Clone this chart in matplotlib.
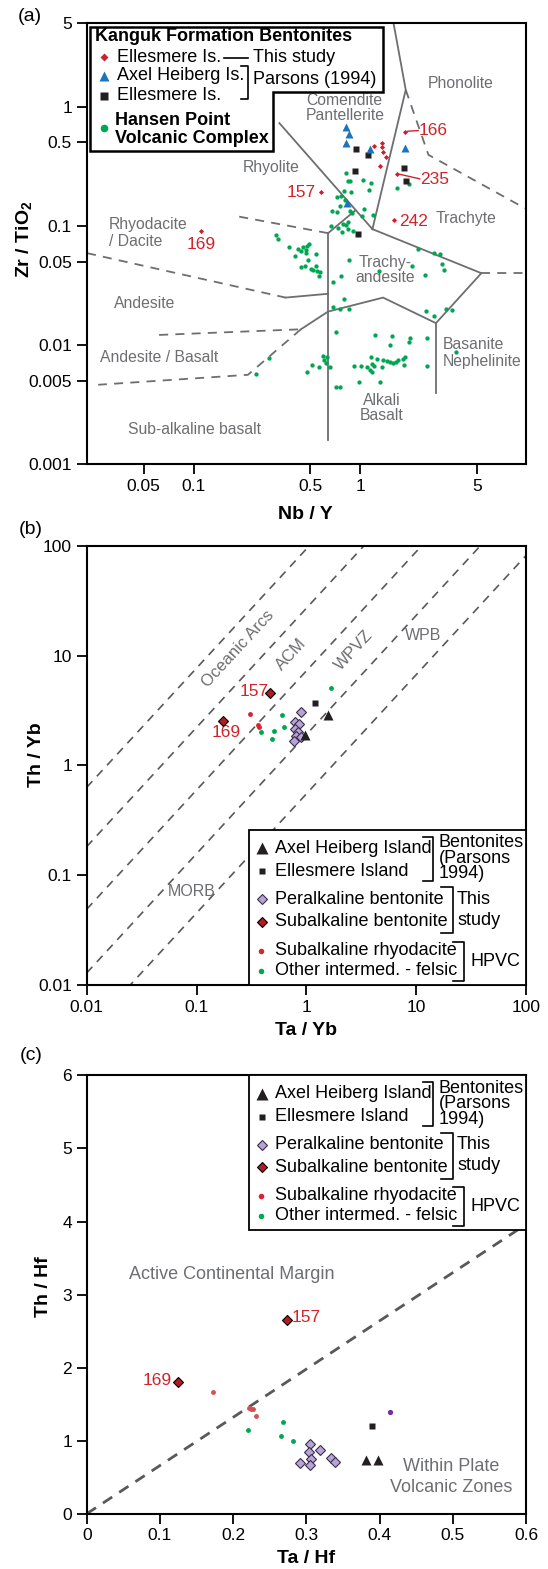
import matplotlib
matplotlib.use('Agg')
import matplotlib.pyplot as plt
from matplotlib.patches import Polygon, Rectangle
import numpy as np

plt.rcParams['font.family'] = ['Liberation Sans', 'DejaVu Sans']
plt.rcParams['mathtext.fontset'] = 'custom'
plt.rcParams['mathtext.rm'] = 'Liberation Sans'
plt.rcParams['mathtext.bf'] = 'Liberation Sans:bold'

GREEN = '#00a651'
RED_A = '#cc1f2f'
BLUE = '#1b75bb'
BLACK = '#231f20'
GRAY = '#6d6e71'
LAV = '#b7a3d4'
DKRED = '#b01c22'
RED_DOT = '#d7242f'
RED_DOT_C = '#d45050'
PURPLE = '#7030a0'
TXT_RED = '#d2232a'

# ---------------- (a) Nb/Y vs Zr/TiO2 ----------------
a_ell_x = [1.207, 1.341, 1.355, 1.374, 1.415, 1.303, 1.667, 1.845, 0.580, 1.588, 0.110]
a_ell_y = [0.465, 0.492, 0.453, 0.417, 0.378, 0.314, 0.272, 0.609, 0.192, 0.111, 0.0905]
a_axel_x = [0.821, 0.849, 0.817, 1.139, 1.845, 0.833]
a_axel_y = [0.679, 0.590, 0.496, 0.436, 0.450, 0.155]
a_ellp_x = [0.939, 1.117, 0.921, 1.826, 1.879, 0.971]
a_ellp_y = [0.444, 0.391, 0.289, 0.304, 0.239, 0.0859]
a_hpvc_x = [0.815, 0.841, 0.870, 1.035, 1.16, 0.793, 0.873, 1.125, 0.723, 0.768,
            0.675, 0.727, 0.757, 0.861, 0.894, 1.05, 1.19, 1.027, 0.841, 0.823,
            0.669, 0.733, 0.785, 0.771, 0.841, 0.902, 0.853, 1.656, 0.804, 1.955,
            0.310, 0.318, 0.372, 0.422, 0.442, 0.452, 0.469, 0.478, 0.491, 0.469,
            0.403, 0.538, 0.484, 0.442, 0.462, 0.502, 0.519, 0.543, 0.551, 0.574,
            0.564, 0.684, 0.768, 0.796,
            0.710, 1.217, 1.553, 1.497, 1.997, 1.955, 2.51, 0.596, 0.633, 0.604,
            0.624, 0.659, 0.514, 0.561, 0.478, 0.910, 1.012, 1.094, 1.136, 1.162,
            1.178, 1.20, 1.256, 1.34, 1.178, 1.365, 1.442, 1.51, 1.567, 1.626,
            1.679, 1.80, 1.85, 1.824, 2.51, 0.979, 1.304, 0.717, 0.750,
            1.286, 2.225, 2.76, 3.02, 2.04, 3.07, 3.16, 2.45, 0.687, 0.757,
            0.853, 2.47, 2.78, 3.28, 3.53, 3.76, 0.282, 0.235]
a_hpvc_y = [0.279, 0.235, 0.239, 0.243, 0.228, 0.197, 0.191, 0.200, 0.174, 0.178,
            0.134, 0.131, 0.145, 0.132, 0.128, 0.138, 0.123, 0.121, 0.108, 0.102,
            0.0985, 0.0955, 0.103, 0.0877, 0.0936, 0.0906, 0.0518, 0.208, 0.163, 0.225,
            0.0839, 0.0777, 0.0661, 0.0636, 0.0608, 0.0661, 0.0619, 0.0669, 0.0705, 0.0589,
            0.0559, 0.0578, 0.0518, 0.0449, 0.0455, 0.0432, 0.0427, 0.0455, 0.0413, 0.0408,
            0.0375, 0.0336, 0.0375, 0.0242,
            0.0127, 0.0122, 0.0118, 0.0100, 0.0115, 0.0106, 0.0113, 0.00811, 0.00784, 0.00740,
            0.00703, 0.00651, 0.00672, 0.00646, 0.00591, 0.00668, 0.00659, 0.00646, 0.00618, 0.00790,
            0.00690, 0.00659, 0.00760, 0.00651, 0.00586, 0.00740, 0.00731, 0.00718, 0.00698, 0.00712,
            0.00740, 0.00760, 0.00784, 0.00681, 0.00659, 0.00490, 0.00488, 0.00439, 0.00439,
            0.0418, 0.0636, 0.0589, 0.0578, 0.0461, 0.0476, 0.0427, 0.0382, 0.0208, 0.0200,
            0.0200, 0.0194, 0.0173, 0.0200, 0.0197, 0.00870, 0.00775, 0.00572]

# field boundaries (Nb/Y, Zr/TiO2)
field_solid = [
    [(1.58, 5.0), (1.87, 1.38), (1.18, 0.0935)],
    [(0.326, 0.725), (1.18, 0.0935)],
    [(1.18, 0.0935), (5.32, 0.0399), (2.84, 0.0152), (1.367, 0.0249),
     (0.639, 0.0190), (0.439, 0.0135)],
    [(0.639, 0.0865), (0.639, 0.0016)],
    [(0.639, 0.0865), (0.930, 0.134)],
    [(0.355, 0.0249), (0.639, 0.0268)],
    [(2.84, 0.0152), (2.84, 0.00393)],
]
field_dashed = [
    [(0.439, 0.0135), (0.211, 0.0056), (0.0266, 0.00462)],
    [(0.187, 0.119), (0.639, 0.0865)],
    [(0.0228, 0.0588), (0.355, 0.0249)],
    [(0.0618, 0.0121), (0.439, 0.0135)],
    [(5.32, 0.0399), (9.86, 0.0399)],
    [(1.87, 1.38), (2.56, 0.393), (9.71, 0.140)],
]
field_names = ['Phonolite', 'Comendite\nPantellerite', 'Rhyolite', 'Trachyte',
               'Trachy-\nandesite', 'Andesite', 'Andesite / Basalt',
               'Alkali\nBasalt', 'Sub-alkaline basalt']
field_x = [3.98, 0.805, 0.293, 4.28, 1.415, 0.0509, 0.0618, 1.335, 0.101]
field_y = [1.57, 0.968, 0.31, 0.115, 0.0426, 0.0224, 0.00783, 0.00294, 0.00196]

# ---------------- (b) Ta/Yb vs Th/Yb ----------------
b_axel_x = [0.975, 1.56]
b_axel_y = [1.88, 2.87]
b_ellp_x = [1.21]
b_ellp_y = [3.73]
b_peral_x = [0.886, 0.782, 0.854, 0.782, 0.842, 0.811, 0.886, 0.776]
b_peral_y = [3.04, 2.50, 2.38, 2.13, 2.03, 1.85, 1.80, 1.68]
b_subalk_x = [0.469, 0.174]
b_subalk_y = [4.59, 2.54]
b_rhyo_x = [0.308, 0.362, 0.368]
b_rhyo_y = [2.95, 2.34, 2.22]
b_other_x = [0.385, 0.508, 0.490, 0.605, 0.624, 1.66]
b_other_y = [2.01, 2.04, 1.73, 2.85, 2.25, 5.03]
b_line_icept = [-0.2, -0.74, -1.31, -1.89, -2.43]   # log10(Th/Yb) at Ta/Yb = 0.01
b_line_slope = 1.085

# ---------------- (c) Ta/Hf vs Th/Hf ----------------
c_axel_x = [0.3815, 0.3973]
c_axel_y = [0.738, 0.738]
c_ellp_x = [0.3892]
c_ellp_y = [1.207]
c_peral_x = [0.305, 0.3193, 0.304, 0.3064, 0.3337, 0.3394, 0.2916, 0.305]
c_peral_y = [0.949, 0.867, 0.843, 0.743, 0.762, 0.714, 0.690, 0.661]
c_subalk_x = [0.1243, 0.2735]
c_subalk_y = [1.81, 2.655]
c_rhyo_x = [0.1726, 0.2213, 0.2247, 0.2266, 0.2314]
c_rhyo_y = [1.672, 1.452, 1.433, 1.428, 1.337]
c_other_x = [0.2199, 0.2677, 0.2653, 0.2820]
c_other_y = [1.140, 1.260, 1.059, 1.001]
c_purple_x = [0.4136]
c_purple_y = [1.399]
c_line_slope = 6.6


def style_axes(ax):
    for s in ax.spines.values():
        s.set_linewidth(1.5)
        s.set_color('black')
    ax.tick_params(direction='out', length=7, width=1.3, labelsize=12.5, pad=3.5,
                   top=False, right=False)


fig = plt.figure(figsize=(5.48, 15.69), dpi=100)
axa = fig.add_axes([0.1582, 0.7043, 0.8016, 0.2809])
axb = fig.add_axes([0.1582, 0.3722, 0.8016, 0.2800])
axc = fig.add_axes([0.1582, 0.0352, 0.8016, 0.2794])

# ======== panel a ========
ax = axa
ax.set_xscale('log')
ax.set_yscale('log')
ax.set_xlim(0.0227, 9.86)
ax.set_ylim(0.001, 5)
ax.minorticks_off()
ax.set_xticks([0.05, 0.1, 0.5, 1, 5])
ax.set_xticklabels(['0.05', '0.1', '0.5', '1', '5'])
ax.set_yticks([0.001, 0.005, 0.01, 0.05, 0.1, 0.5, 1, 5])
ax.set_yticklabels(['0.001', '0.005', '0.01', '0.05', '0.1', '0.5', '1', '5'])
style_axes(ax)
for seg in field_solid:
    xs, ys = zip(*seg)
    ax.plot(xs, ys, color=GRAY, lw=1.3, zorder=1)
for seg in field_dashed:
    xs, ys = zip(*seg)
    ax.plot(xs, ys, color=GRAY, lw=1.3, ls=(0, (5, 4)), zorder=1)
for name, fx, fy in zip(field_names, field_x, field_y):
    ax.text(fx, fy, name, color=GRAY, fontsize=11.3, ha='center', va='center',
            linespacing=1.05, zorder=2)
ax.text(0.0307, 0.087, 'Rhyodacite\n/ Dacite', color=GRAY, fontsize=11.3,
        ha='left', va='center', linespacing=1.15)
ax.text(3.10, 0.0085, 'Basanite\nNephelinite', color=GRAY, fontsize=11.3,
        ha='left', va='center', linespacing=1.15)

ax.plot(a_hpvc_x, a_hpvc_y, 'o', ms=3.1, color=GREEN, mec='none', zorder=3)
ax.plot(a_ellp_x, a_ellp_y, 's', ms=4.5, color=BLACK, mec='none', zorder=4)
ax.plot(a_axel_x, a_axel_y, '^', ms=5.5, color=BLUE, mec='none', zorder=4)
ax.plot(a_ell_x, a_ell_y, 'D', ms=2.6, color=RED_A, mec='none', zorder=5)

ax.plot([1.92, 2.22], [0.62, 0.628], color=TXT_RED, lw=1)
ax.text(2.24, 0.629, '166', color=TXT_RED, fontsize=12.5, va='center')
ax.plot([1.72, 2.27], [0.270, 0.247], color=TXT_RED, lw=1)
ax.text(2.29, 0.246, '235', color=TXT_RED, fontsize=12.5, va='center')
ax.text(0.54, 0.19, '157', color=TXT_RED, fontsize=12.5, va='center', ha='right')
ax.text(1.70, 0.108, '242', color=TXT_RED, fontsize=12.5, va='center')
ax.text(0.110, 0.069, '169', color=TXT_RED, fontsize=12.5, va='center', ha='center')

ax.set_xlabel('Nb / Y', fontsize=14, fontweight='bold')
ax.xaxis.set_label_coords(0.4985, -0.0953)
ax.set_ylabel(r'Zr / TiO$_\mathbf{2}$', fontsize=14, fontweight='bold')
ax.yaxis.set_label_coords(-0.1177, 0.51)

# legend box of panel a
box = Polygon([(0.008, 0.991), (0.674, 0.991), (0.674, 0.845), (0.423, 0.845),
               (0.423, 0.709), (0.008, 0.709)], closed=True, transform=ax.transAxes,
              fc='white', ec='black', lw=1.8, zorder=10)
ax.add_patch(box)
T = ax.transAxes
ax.text(0.0191, 0.970, 'Kanguk Formation Bentonites', transform=T, fontsize=13,
        fontweight='bold', va='center', zorder=11)
ax.plot([0.039], [0.923], 'D', ms=4.2, color=RED_A, mec='none', transform=T, zorder=11)
ax.plot([0.039], [0.881], '^', ms=7, color=BLUE, mec='none', transform=T, zorder=11)
ax.plot([0.039], [0.836], 's', ms=5.3, color=BLACK, mec='none', transform=T, zorder=11)
ax.plot([0.039], [0.763], 'o', ms=5.5, color=GREEN, mec='none', transform=T, zorder=11)
ax.text(0.0692, 0.923, 'Ellesmere Is.', transform=T, fontsize=13, va='center', zorder=11)
ax.text(0.0692, 0.881, 'Axel Heiberg Is.', transform=T, fontsize=13, va='center', zorder=11)
ax.text(0.0692, 0.836, 'Ellesmere Is.', transform=T, fontsize=13, va='center', zorder=11)
ax.plot([0.312, 0.368], [0.921, 0.921], color='black', lw=1.2, transform=T, zorder=11)
ax.text(0.3795, 0.923, 'This study', transform=T, fontsize=13, va='center', zorder=11)
ax.plot([0.3516, 0.3675, 0.3675, 0.3516], [0.902, 0.902, 0.827, 0.827],
        color='black', lw=1.2, transform=T, zorder=11)
ax.text(0.3795, 0.873, 'Parsons (1994)', transform=T, fontsize=13, va='center', zorder=11)
ax.text(0.065, 0.759, 'Hansen Point\nVolcanic Complex', transform=T, fontsize=13,
        fontweight='bold', va='center', linespacing=1.05, zorder=11)


def hpvc_legend(ax, top):
    T = ax.transAxes
    ax.add_patch(Rectangle((0.3705, top - 0.353), 0.6295, 0.353, transform=T,
                           fc='white', ec='black', lw=1.3, zorder=10))
    ax.plot([0.398], [top - 0.042], '^', ms=8.5, color=BLACK, mec='none', transform=T, zorder=11)
    ax.plot([0.398], [top - 0.094], 's', ms=5, color=BLACK, mec='none', transform=T, zorder=11)
    ax.plot([0.398], [top - 0.158], 'D', ms=4.8, color=LAV, mec='#3b2d4f', mew=0.8,
            transform=T, zorder=11)
    ax.plot([0.398], [top - 0.209], 'D', ms=4.8, color=DKRED, mec='black', mew=0.8,
            transform=T, zorder=11)
    ax.plot([0.396], [top - 0.275], 'o', ms=4, color=RED_DOT, mec='none', transform=T, zorder=11)
    ax.plot([0.396], [top - 0.320], 'o', ms=4, color=GREEN, mec='none', transform=T, zorder=11)
    labels = ['Axel Heiberg Island', 'Ellesmere Island', 'Peralkaline bentonite',
              'Subalkaline bentonite', 'Subalkaline rhyodacite', 'Other intermed. - felsic']
    offs = [0.042, 0.094, 0.158, 0.209, 0.275, 0.320]
    for lab, o in zip(labels, offs):
        ax.text(0.429, top - o, lab, transform=T, fontsize=13, va='center', zorder=11)
    brackets = [(0.766, 0.789, 0.016, 0.1155), (0.807, 0.833, 0.131, 0.2354),
                (0.835, 0.860, 0.254, 0.344)]
    for xl, xr, y0, y1 in brackets:
        ax.plot([xl, xr, xr, xl], [top - y0, top - y0, top - y1, top - y1], color='black',
                lw=1.2, transform=T, zorder=11)
    side = [('Bentonites', 0.801, 0.029), ('(Parsons', 0.801, 0.065), ('1994)', 0.801, 0.1),
            ('This', 0.843, 0.158), ('study', 0.843, 0.206), ('HPVC', 0.873, 0.299)]
    for lab, x, o in side:
        ax.text(x, top - o, lab, transform=T, fontsize=13, va='center', zorder=11)


# ======== panel b ========
ax = axb
ax.set_xscale('log')
ax.set_yscale('log')
ax.set_xlim(0.01, 100)
ax.set_ylim(0.01, 100)
ax.minorticks_off()
ax.set_xticks([0.01, 0.1, 1, 10, 100])
ax.set_xticklabels(['0.01', '0.1', '1', '10', '100'])
ax.set_yticks([0.01, 0.1, 1, 10, 100])
ax.set_yticklabels(['0.01', '0.1', '1', '10', '100'])
style_axes(ax)
lx = np.array([0.01, 100.0])
for b in b_line_icept:
    ly = 10 ** (b + b_line_slope * (np.log10(lx) + 2))
    ax.plot(lx, ly, color='#58595b', lw=1.2, ls=(0, (5, 4)), zorder=1)
ang = np.degrees(np.arctan(b_line_slope))
ax.text(0.237, 11.6, 'Oceanic Arcs', color=GRAY, fontsize=12, rotation=ang,
        ha='center', va='center', rotation_mode='anchor')
ax.text(0.73, 10.3, 'ACM', color=GRAY, fontsize=12, rotation=ang,
        ha='center', va='center', rotation_mode='anchor')
ax.text(2.70, 11.1, 'WPVZ', color=GRAY, fontsize=12, rotation=ang,
        ha='center', va='center', rotation_mode='anchor')
ax.text(11.5, 15.1, 'WPB', color=GRAY, fontsize=11.5, ha='center', va='center')
ax.text(0.090, 0.0708, 'MORB', color=GRAY, fontsize=11.5, ha='center', va='center')

ax.plot(b_other_x, b_other_y, 'o', ms=3.5, color=GREEN, mec='none', zorder=3)
ax.plot(b_rhyo_x, b_rhyo_y, 'o', ms=3.5, color=RED_DOT, mec='none', zorder=3)
ax.plot(b_peral_x, b_peral_y, 'D', ms=5, color=LAV, mec='#3b2d4f', mew=0.8, zorder=4)
ax.plot(b_axel_x, b_axel_y, '^', ms=7, color=BLACK, mec='none', zorder=5)
ax.plot(b_ellp_x, b_ellp_y, 's', ms=4.5, color=BLACK, mec='none', zorder=5)
ax.plot(b_subalk_x, b_subalk_y, 'D', ms=5, color=DKRED, mec='black', mew=0.8, zorder=5)
ax.text(0.458, 4.75, '157', color=TXT_RED, fontsize=12.5, ha='right', va='center')
ax.text(0.187, 2.0, '169', color=TXT_RED, fontsize=12.5, ha='center', va='center')
hpvc_legend(ax, 0.353)
ax.set_xlabel('Ta / Yb', fontsize=14, fontweight='bold')
ax.xaxis.set_label_coords(0.50, -0.0838)
ax.set_ylabel('Th / Yb', fontsize=14, fontweight='bold')
ax.yaxis.set_label_coords(-0.094, 0.524)

# ======== panel c ========
ax = axc
ax.set_xlim(0, 0.6)
ax.set_ylim(0, 6)
ax.set_xticks(np.arange(0, 0.61, 0.1))
ax.set_xticklabels(['0', '0.1', '0.2', '0.3', '0.4', '0.5', '0.6'])
ax.set_yticks(range(0, 7))
style_axes(ax)
lx = np.array([0.0, 0.6])
ax.plot(lx, c_line_slope * lx, color='#58595b', lw=2, ls=(0, (4, 3)), zorder=1)
ax.text(0.058, 3.27, 'Active Continental Margin', color=GRAY, fontsize=13, va='center')
ax.text(0.4985, 0.50, 'Within Plate\nVolcanic Zones', color=GRAY, fontsize=13,
        ha='center', va='center', linespacing=1.3)
ax.plot(c_other_x, c_other_y, 'o', ms=3.5, color=GREEN, mec='none', zorder=3)
ax.plot(c_rhyo_x, c_rhyo_y, 'o', ms=3.5, color=RED_DOT_C, mec='none', zorder=3)
ax.plot(c_purple_x, c_purple_y, 'o', ms=3.8, color=PURPLE, mec='none', zorder=3)
ax.plot(c_peral_x, c_peral_y, 'D', ms=5, color=LAV, mec='#3b2d4f', mew=0.8, zorder=4)
ax.plot(c_axel_x, c_axel_y, '^', ms=7, color=BLACK, mec='none', zorder=5)
ax.plot(c_ellp_x, c_ellp_y, 's', ms=4.5, color=BLACK, mec='none', zorder=5)
ax.plot(c_subalk_x, c_subalk_y, 'D', ms=5, color=DKRED, mec='black', mew=0.8, zorder=5)
ax.text(0.1167, 1.82, '169', color=TXT_RED, fontsize=12.5, ha='right', va='center')
ax.text(0.2797, 2.69, '157', color=TXT_RED, fontsize=12.5, ha='left', va='center')
hpvc_legend(ax, 1.0)
ax.set_xlabel('Ta / Hf', fontsize=14, fontweight='bold')
ax.xaxis.set_label_coords(0.50, -0.0828)
ax.set_ylabel('Th / Hf', fontsize=14, fontweight='bold')
ax.yaxis.set_label_coords(-0.0779, 0.519)

fig.text(30 / 548, 1 - 16.7 / 1569, '(a)', fontsize=14, ha='center', va='center')
fig.text(30.7 / 548, 1 - 530 / 1569, '(b)', fontsize=14, ha='center', va='center')
fig.text(31.5 / 548, 1 - 1055 / 1569, '(c)', fontsize=14, ha='center', va='center')

fig.savefig('out.png', dpi=100)
